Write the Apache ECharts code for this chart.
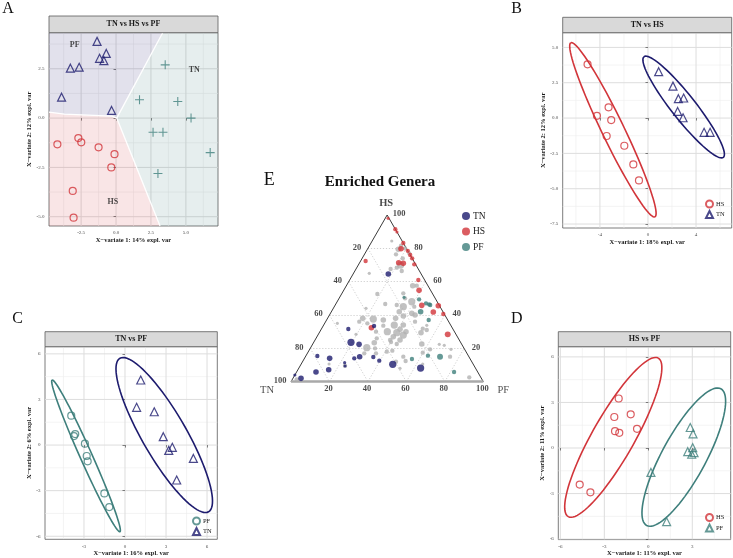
<!DOCTYPE html>
<html>
<head>
<meta charset="utf-8">
<script src="https://cdn.jsdelivr.net/npm/echarts@6/dist/echarts.min.js"></script>
<style>
  html, body { margin: 0; padding: 0; background: #fff; }
  #chart { width: 733px; height: 558px; }
</style>
</head>
<body>
<div id="chart"></div>
<script>
// ---- panel A: TN vs HS vs PF (x1, x2 scores) ----
const aTN = [[3.52, 2.7], [1.68, 0.93], [4.42, 0.84], [5.37, 0], [2.65, -0.72], [3.36, -0.72], [6.74, -1.75], [3.0, -2.81]];
const aHS = [[-4.2, -1.33], [-2.7, -1.01], [-2.49, -1.23], [-1.25, -1.48], [-0.11, -1.83], [-0.34, -2.5], [-3.1, -3.69], [-3.04, -5.05]];
const aPF = [[-1.36, 3.89], [-0.7, 3.28], [-1.18, 3.03], [-0.87, 2.91], [-3.27, 2.53], [-2.64, 2.58], [-3.9, 1.06], [-0.32, 0.39]];
// prediction areas (data space)
const aAreaPF = [[-4.8, 4.33], [3.34, 4.33], [0.05, 0], [-0.3, 0.1], [-3.7, 0.2], [-4.8, 0.3]];
const aAreaTN = [[3.34, 4.33], [7.3, 4.33], [7.3, -5.47], [3.15, -5.47], [0.05, 0]];
const aAreaHS = [[-4.8, 0.3], [-3.7, 0.2], [-0.3, 0.1], [0.05, 0], [3.15, -5.47], [-4.8, -5.47]];
const aBorders = [
  [[-4.8, 0.3], [-3.7, 0.2], [-0.3, 0.1], [0.05, 0]],
  [[0.05, 0], [3.34, 4.33]],
  [[0.05, 0], [3.15, -5.47]]
];
const aAreaLabels = [[-2.96, 3.72, 'PF'], [5.6, 2.44, 'TN'], [-0.23, -4.24, 'HS']];
const aXTicks = [-2.5, 0, 2.5, 5];
const aYTicks = [-5, -2.5, 0, 2.5];
const aXMinor = [-3.75, -1.25, 1.25, 3.75, 6.25];
const aYMinor = [-3.75, -1.25, 1.25, 3.75];

// ---- panel B: TN vs HS ----
const bHS = [[-5.03, 3.8], [-4.25, 0.16], [-3.28, 0.76], [-3.06, -0.14], [-3.44, -1.27], [-1.97, -1.96], [-1.22, -3.28], [-0.75, -4.41]];
const bTN = [[0.89, 3.28], [2.08, 2.26], [2.53, 1.37], [2.97, 1.42], [2.47, 0.47], [2.92, 0.02], [4.67, -1.01], [5.17, -1.01]];
// ellipse: centre x, centre y, semi-axis 1 (dx, dy), semi-axis 2 (dx, dy)
const bEllHS = [-2.92, -0.83, -3.5, 6.16, 0.83, 0.34];
const bEllTN = [2.97, 0.78, -3.3, 3.56, 0.79, 0.53];
const bXTicks = [-4, 0, 4];
const bYTicks = [-7.5, -5, -2.5, 0, 2.5, 5];
const bXMinor = [-6, -2, 2, 6];
const bYMinor = [-6.25, -3.75, -1.25, 1.25, 3.75];

// ---- panel C: TN vs PF ----
const cPF = [[-3.93, 1.93], [-3.64, 0.72], [-3.73, 0.59], [-2.93, 0.09], [-2.8, -0.72], [-2.73, -1.07], [-1.51, -3.18], [-1.15, -4.08]];
const cTN = [[1.15, 4.28], [0.85, 2.48], [2.14, 2.19], [2.8, 0.55], [3.46, -0.15], [3.2, -0.35], [5.0, -0.88], [3.78, -2.3]];
const cEllPF = [-2.85, -0.71, -2.48, 4.99, 0.4, 0.16];
const cEllTN = [2.87, 0.66, -3.24, 5.05, 1.4, 0.72];
const cXTicks = [-3, 0, 3, 6];
const cYTicks = [-6, -3, 0, 3, 6];
const cXMinor = [-4.5, -1.5, 1.5, 4.5];
const cYMinor = [-4.5, -1.5, 1.5, 4.5];

// ---- panel D: HS vs PF ----
const dHS = [[-2.02, 3.26], [-2.32, 2.04], [-1.2, 2.22], [-2.27, 1.11], [-1.98, 1.0], [-0.77, 1.26], [-4.68, -2.41], [-3.95, -2.92]];
const dPF = [[2.86, 1.35], [3.05, 0.93], [3.03, 0.02], [2.69, -0.24], [3.12, -0.31], [2.96, -0.41], [0.18, -1.61], [1.25, -4.85]];
const dEllHS = [-2.39, 0.7, 3.07, 5.22, 1.25, -0.67];
const dEllPF = [2.42, -0.6, 2.53, 4.5, 1.32, -0.68];
const dXTicks = [-6, -3, 0, 3];
const dYTicks = [-6, -3, 0, 3, 6];
const dXMinor = [-4.5, -1.5, 1.5, 4.5];
const dYMinor = [-4.5, -1.5, 1.5, 4.5];

// ---- panel E: enriched genera, [TN, HS, PF, abundance] ----
const eTN = [
  [17.1, 64.6, 18.3, 0.5], [40.1, 33.4, 26.5, 0.2], [54.4, 31.6, 14, 0.2], [57, 23.6, 19.4, 1.1],
  [53.4, 22.4, 24.2, 0.5], [78.6, 15.4, 6, 0.2], [72.9, 14, 13.1, 0.5], [66.4, 11.4, 22.2, 0.04],
  [67.2, 9.4, 23.4, 0.04], [60.1, 14, 25.9, 0.2], [56.8, 15, 28.2, 0.5], [49.8, 14.8, 35.4, 0.2],
  [47.8, 12.6, 39.6, 0.2], [41.9, 10.4, 47.7, 1.1], [84.1, 5.8, 10.1, 0.5], [76.8, 7.2, 16, 0.5],
  [28.5, 8.2, 63.3, 1.1], [93.8, 2, 4.2, 0.5], [96, 4, 0, 0.04]
];
const eHS = [
  [0.5, 98, 1.5, 0.04], [0, 91.5, 8.5, 0.2], [0, 89.8, 10.2, 0.04], [0, 83.2, 16.8, 0.2],
  [2.9, 79.8, 17.3, 0.5], [0, 78.5, 21.5, 0.2], [0, 76, 24, 0.2], [0, 74, 26, 0.2],
  [8.3, 71.4, 20.3, 0.5], [6.1, 71, 22.9, 0.5], [0.7, 70.4, 28.9, 0.2], [25, 72.4, 2.6, 0.2],
  [3.3, 61, 35.7, 0.2], [6, 54.8, 39.2, 0.5], [9.1, 45.8, 45.1, 0.5], [0.6, 45.6, 53.8, 0.5],
  [5.1, 41.8, 53.1, 0.5], [0.5, 40.6, 58.9, 0.2], [42, 32.4, 25.6, 0.5], [4.3, 28.4, 67.3, 0.6]
];
const ePF = [
  [8.7, 49.4, 41.9, 0.2], [15.9, 50.6, 33.5, 0.04], [6.3, 47, 46.7, 0.2], [5, 46.4, 48.6, 0.2],
  [4.6, 46, 49.4, 0.2], [11.6, 42, 46.4, 0.5], [9.9, 37, 53.1, 0.2], [30.3, 13.6, 56.1, 0.2],
  [21, 15.6, 63.4, 0.2], [15, 15, 70, 0.6], [12.3, 5.8, 81.9, 0.2]
];
const eNS = [
  [5.4, 84.4, 10.2, 0.04], [2, 81.6, 16.4, 0.2], [4.5, 79.4, 16.1, 0.5], [7.2, 76.4, 16.4, 0.2],
  [4.9, 74, 21.1, 0.2], [8, 70, 22, 1.1], [10.8, 68.4, 20.8, 0.2], [14.4, 67.6, 18, 0.2],
  [9.2, 66.4, 24.4, 0.2], [26.8, 65, 8.2, 0.04], [0.7, 80, 19.3, 0.2], [0, 77, 23, 0.2],
  [7.9, 57.6, 34.5, 0.5], [5.8, 57.6, 36.6, 0.2], [15.1, 53, 31.9, 0.2], [13.2, 48, 38.8, 1.1],
  [15.7, 50, 34.3, 0.2], [22, 46, 32, 0.2], [28.8, 52.6, 18.6, 0.2], [27.7, 46.6, 25.7, 0.2],
  [19.1, 45, 35.9, 1.1], [39, 44, 17, 0.04], [16.7, 41, 42.3, 0.5], [15.5, 40, 44.5, 0.5],
  [22.7, 42, 35.3, 0.5], [21.9, 39.4, 38.7, 0.5], [26.6, 38, 35.4, 0.5], [38.4, 37.6, 24, 1.1],
  [43.7, 38, 18.3, 0.5], [46.5, 36, 17.5, 0.2], [42.8, 35, 22.2, 0.2], [58.4, 35, 6.6, 0.04],
  [35.2, 33.6, 31.2, 0.2], [40.8, 30, 29.2, 0.2], [29.3, 34, 36.7, 1.1], [24.6, 34, 41.4, 0.5],
  [27.6, 31.4, 41, 0.5], [34.9, 30, 35.1, 1.1], [30.3, 29.4, 40.3, 1.1], [33.3, 27, 39.7, 0.5],
  [27.6, 28, 44.4, 1.1], [25.2, 30, 44.8, 0.5], [30.8, 25, 44.2, 0.5], [36, 25, 39, 0.2],
  [33.7, 22.6, 43.7, 0.2], [36.1, 23.8, 40.1, 0.2], [42.4, 26, 31.6, 0.2], [52, 28.4, 19.6, 0.04],
  [45, 23.4, 31.6, 0.5], [50.4, 20.4, 29.2, 1.1], [46.3, 20, 33.7, 0.2], [47.3, 17, 35.7, 0.2],
  [53.4, 17, 29.6, 0.2], [41.2, 18, 40.8, 0.2], [38, 18.6, 43.4, 0.2], [17.7, 29.4, 52.9, 0.5],
  [15.6, 31.8, 52.6, 0.2], [13.9, 31, 55.1, 0.2], [20.7, 22.6, 56.7, 0.5], [22.8, 17.4, 59.8, 0.2],
  [18, 19.4, 62.6, 0.2], [11.7, 22.4, 65.9, 0.04], [9.4, 21.8, 68.8, 0.04], [7.1, 19.4, 73.5, 0.04],
  [9.8, 15, 75.2, 0.2], [34.1, 15, 50.9, 0.2], [34.2, 12.4, 53.4, 0.2], [39.3, 8, 52.7, 0.04],
  [39.4, 12, 48.6, 0.2], [67.1, 9.6, 23.3, 0.2], [74.9, 10.6, 14.5, 0.04], [26.2, 10.6, 63.2, 0.04],
  [6, 2.6, 91.4, 0.2], [96.3, 1.4, 2.3, 0.2], [17.5, 36, 46.5, 0.2], [12.5, 33.8, 53.7, 0.04],
  [33.5, 37, 29.5, 0.5], [13.4, 45, 41.6, 0.2]
];
const eGrid = [20, 40, 60, 80];
const eTicks = [20, 40, 60, 80, 100];

const NAVY = '#1d1b6e';
const RED = '#d2353a';
const TEAL = '#3e7f7c';
const GREY = '#b1b1b1';
const SERIF = '"Liberation Serif", "DejaVu Serif", serif';

const SQ3 = Math.sqrt(3) / 2;
function tern(tn, hs, pf) {
  const s = tn + hs + pf;
  return [(pf + hs / 2) / s * 100, hs * SQ3 / s * 100];
}

const chart = echarts.init(document.getElementById('chart'));

const grids = [
  { left: 49, top: 32.7, width: 169, height: 193.3 },
  { left: 562.7, top: 32.7, width: 169, height: 195.3 },
  { left: 45, top: 346.7, width: 172.3, height: 192.6 },
  { left: 558.3, top: 346.7, width: 172.4, height: 193.6 },
  { left: 291, top: 215, width: 192.3, height: 166.7 }
].map((g, i) => Object.assign(g, {
  show: i < 4, backgroundColor: '#fff', borderColor: '#5a5a5a', borderWidth: 0.8
}));

// panel background grid lines, major + minor, drawn through the axis scales
function gridLines(gi, xs, ys, color, width) {
  return {
    type: 'custom', xAxisIndex: gi, yAxisIndex: gi, data: [[0, 0]], z: 0, silent: true, clip: true,
    renderItem: (params, api) => {
      const x0 = params.coordSys.x, y0 = params.coordSys.y;
      const w = params.coordSys.width, h = params.coordSys.height;
      const kids = [];
      xs.forEach(v => {
        const px = api.coord([v, 0])[0];
        kids.push({ type: 'line', shape: { x1: px, y1: y0, x2: px, y2: y0 + h }, style: { stroke: color, lineWidth: width } });
      });
      ys.forEach(v => {
        const py = api.coord([0, v])[1];
        kids.push({ type: 'line', shape: { x1: x0, y1: py, x2: x0 + w, y2: py }, style: { stroke: color, lineWidth: width } });
      });
      return { type: 'group', children: kids };
    }
  };
}

function mainAxis(gi, min, max, ticks, name, gap, dec) {
  return {
    gridIndex: gi, type: 'value', min: min, max: max,
    name: name, nameLocation: 'middle', nameGap: gap,
    nameTextStyle: { fontFamily: SERIF, fontWeight: 'bold', fontSize: 6.5, color: '#1a1a1a' },
    axisLine: { show: false },
    axisTick: { show: true, length: 2.5, lineStyle: { color: '#333', width: 0.6 }, customValues: ticks },
    axisLabel: {
      customValues: ticks, fontSize: 5, fontFamily: SERIF, color: '#4d4d4d', margin: 4.5,
      formatter: v => Number(v).toFixed(dec)
    },
    splitLine: { show: false }
  };
}

const xAxis = [
  mainAxis(0, -4.8, 7.3, aXTicks, 'X\u2212variate 1: 14% expl. var', 10.5, 1),
  mainAxis(1, -7.1, 6.97, bXTicks, 'X\u2212variate 1: 18% expl. var', 8, 0),
  mainAxis(2, -5.85, 6.75, cXTicks, 'X\u2212variate 1: 16% expl. var', 10, 0),
  mainAxis(3, -6.14, 5.62, dXTicks, 'X\u2212variate 1: 11% expl. var', 9.7, 0),
  { gridIndex: 4, type: 'value', min: 0, max: 100, show: false }
];
const yAxis = [
  mainAxis(0, -5.47, 4.33, aYTicks, 'X\u2212variate 2: 12% expl. var', 10, 1),
  mainAxis(1, -7.78, 6.04, bYTicks, 'X\u2212variate 2: 12% expl. var', 14.5, 1),
  mainAxis(2, -6.2, 6.47, cYTicks, 'X\u2212variate 2: 6% expl. var', 11, 0),
  mainAxis(3, -6.03, 6.67, dYTicks, 'X\u2212variate 2: 11% expl. var', 11.7, 0),
  { gridIndex: 4, type: 'value', min: 0, max: 100 * SQ3, show: false }
];

const CROSS = 'path://M0,4.4H10V5.6H0ZM4.4,0H5.6V10H4.4Z';
function pts(name, gi, data, shape, color) {
  return {
    type: 'scatter', name: name, xAxisIndex: gi, yAxisIndex: gi, data: data, z: 4, silent: true,
    symbol: shape === 'cross' ? CROSS : shape,
    symbolSize: shape === 'triangle' ? 8 : shape === 'cross' ? 9 : 7,
    itemStyle: shape === 'cross'
      ? { color: color }
      : { color: 'rgba(0,0,0,0)', borderColor: color, borderWidth: 1.2 }
  };
}
function ellipse(gi, e, color) {
  return {
    type: 'custom', xAxisIndex: gi, yAxisIndex: gi, data: [[e[0], e[1]]], z: 3, silent: true,
    renderItem: (params, api) => {
      const p = [];
      for (let k = 0; k <= 90; k++) {
        const t = k / 90 * 2 * Math.PI;
        p.push(api.coord([e[0] + e[2] * Math.cos(t) + e[4] * Math.sin(t),
                          e[1] + e[3] * Math.cos(t) + e[5] * Math.sin(t)]));
      }
      return { type: 'polyline', shape: { points: p }, style: { fill: 'none', stroke: color, lineWidth: 1.6 } };
    }
  };
}
function area(poly, fill) {
  return {
    type: 'custom', xAxisIndex: 0, yAxisIndex: 0, data: [poly[0]], z: 1, silent: true,
    renderItem: (params, api) => ({
      type: 'polygon', shape: { points: poly.map(v => api.coord(v)) }, style: { fill: fill }
    })
  };
}
function ternPts(name, data, color) {
  return {
    type: 'scatter', name: name, xAxisIndex: 4, yAxisIndex: 4, silent: true, z: 5,
    data: data.map(d => tern(d[0], d[1], d[2]).concat(d[3])),
    symbol: 'circle', symbolSize: v => 2.2 + 4.8 * Math.sqrt(v[2]),
    itemStyle: { color: color }
  };
}
function ternLabels(data, offset, bold, size) {
  return {
    type: 'scatter', xAxisIndex: 4, yAxisIndex: 4, silent: true, symbolSize: 0, z: 6,
    data: data,
    label: {
      show: true, position: 'inside', offset: offset, formatter: p => p.value[2],
      fontFamily: SERIF, fontWeight: bold ? 'bold' : 'normal', fontSize: size, color: '#1a1a1a'
    }
  };
}
function ternSeg(a, b) { return { coords: [tern(a[0], a[1], a[2]), tern(b[0], b[1], b[2])] }; }

const gridSegs = [];
eGrid.forEach(k => {
  gridSegs.push(ternSeg([100 - k, k, 0], [0, k, 100 - k]));
  gridSegs.push(ternSeg([100 - k, 0, k], [0, 100 - k, k]));
  gridSegs.push(ternSeg([k, 100 - k, 0], [k, 0, 100 - k]));
});

const series = [
  gridLines(0, aXMinor, aYMinor, '#ececec', 0.6), gridLines(0, aXTicks, aYTicks, '#dddddd', 1),
  gridLines(1, bXMinor, bYMinor, '#ececec', 0.6), gridLines(1, bXTicks, bYTicks, '#dddddd', 1),
  gridLines(2, cXMinor, cYMinor, '#ececec', 0.6), gridLines(2, cXTicks, cYTicks, '#dddddd', 1),
  gridLines(3, dXMinor, dYMinor, '#ececec', 0.6), gridLines(3, dXTicks, dYTicks, '#dddddd', 1),
  area(aAreaPF, 'rgba(30,27,110,0.13)'),
  area(aAreaTN, 'rgba(62,127,124,0.13)'),
  area(aAreaHS, 'rgba(210,53,58,0.13)'),
  {
    type: 'custom', xAxisIndex: 0, yAxisIndex: 0, data: [[0, 0]], z: 2, silent: true,
    renderItem: (params, api) => ({
      type: 'group',
      children: aBorders.map(b => ({
        type: 'polyline', shape: { points: b.map(v => api.coord(v)) },
        style: { fill: 'none', stroke: '#fff', lineWidth: 1.3 }
      }))
    })
  },
  {
    type: 'scatter', xAxisIndex: 0, yAxisIndex: 0, data: aAreaLabels, symbolSize: 0, silent: true, z: 5,
    label: { show: true, position: 'inside', formatter: p => p.value[2], fontFamily: SERIF, fontWeight: 'bold', fontSize: 8, color: '#1a1a1a' }
  },
  pts('A-TN', 0, aTN, 'cross', TEAL),
  pts('A-HS', 0, aHS, 'circle', RED),
  pts('A-PF', 0, aPF, 'triangle', NAVY),

  ellipse(1, bEllHS, RED), ellipse(1, bEllTN, NAVY),
  pts('B-HS', 1, bHS, 'circle', RED), pts('B-TN', 1, bTN, 'triangle', NAVY),

  ellipse(2, cEllPF, TEAL), ellipse(2, cEllTN, NAVY),
  pts('C-PF', 2, cPF, 'circle', TEAL), pts('C-TN', 2, cTN, 'triangle', NAVY),

  ellipse(3, dEllHS, RED), ellipse(3, dEllPF, TEAL),
  pts('D-HS', 3, dHS, 'circle', RED), pts('D-PF', 3, dPF, 'triangle', TEAL),

  // ternary frame
  {
    type: 'lines', coordinateSystem: 'cartesian2d', xAxisIndex: 4, yAxisIndex: 4, silent: true, z: 1,
    data: gridSegs, lineStyle: { color: '#c4c4c4', width: 0.8, type: [1.2, 1.8], opacity: 1 }
  },
  {
    type: 'lines', coordinateSystem: 'cartesian2d', xAxisIndex: 4, yAxisIndex: 4, silent: true, z: 2,
    data: [ternSeg([100, 0, 0], [0, 100, 0]), ternSeg([0, 100, 0], [0, 0, 100])],
    lineStyle: { color: '#3a3a3a', width: 1, opacity: 1 }
  },
  {
    type: 'lines', coordinateSystem: 'cartesian2d', xAxisIndex: 4, yAxisIndex: 4, silent: true, z: 2,
    data: [ternSeg([100, 0, 0], [0, 0, 100])],
    lineStyle: { color: '#a9a9a9', width: 2.6, opacity: 1 }
  },
  ternPts('E-NS', eNS, GREY),
  ternPts('E-PF', ePF, TEAL),
  ternPts('E-HS', eHS, RED),
  ternPts('E-TN', eTN, NAVY),
  ternLabels(eTicks.map(v => tern(v, 100 - v, 0).concat(String(v))), [-11, -1], true, 8.5),
  ternLabels(eTicks.map(v => tern(0, v, 100 - v).concat(String(v))), [12, -1], true, 8.5),
  ternLabels(eTicks.map(v => tern(100 - v, 0, v).concat(String(v))), [-1, 7], true, 8.5),
  ternLabels([tern(0, 100, 0).concat('HS')], [-1, -12], true, 10.5),
  ternLabels([tern(100, 0, 0).concat('TN')], [-24, 9], false, 10.5),
  ternLabels([tern(0, 0, 100).concat('PF')], [20, 9], false, 10.5)
];

function legendAt(names, left, top, gap, size, font) {
  return {
    data: names, left: left, top: top, orient: 'vertical', itemWidth: size, itemHeight: size,
    itemGap: gap, padding: 0, selectedMode: false,
    formatter: n => n.slice(2),
    textStyle: { fontFamily: SERIF, fontSize: font, color: '#1a1a1a', padding: [0, 0, 0, -2] }
  };
}

function strip(x, y, w, h, text) {
  return [
    { type: 'rect', shape: { x: x, y: y, width: w, height: h }, style: { fill: '#d9d9d9', stroke: '#5a5a5a', lineWidth: 0.8 }, z: 10 },
    { type: 'text', x: x + w / 2, y: y + h / 2, z: 11,
      style: { text: text, textAlign: 'center', textVerticalAlign: 'middle', align: 'center', verticalAlign: 'middle',
               font: 'bold 8px "Liberation Serif"', fill: '#1a1a1a' } }
  ];
}
function letter(x, y, t, size) {
  return { type: 'text', x: x, y: y, z: 11,
    style: { text: t, textAlign: 'center', textVerticalAlign: 'middle', align: 'center', verticalAlign: 'middle',
             font: size + 'px "Liberation Serif"', fill: '#111' } };
}

chart.setOption({
  animation: false,
  grid: grids,
  xAxis: xAxis,
  yAxis: yAxis,
  legend: [
    legendAt(['B-HS', 'B-TN'], 705, 199.5, 1.5, 7, 6.5),
    legendAt(['C-PF', 'C-TN'], 192, 516.5, 1.5, 7, 6.5),
    legendAt(['D-HS', 'D-PF'], 705, 513, 1.5, 7, 6.5),
    legendAt(['E-TN', 'E-HS', 'E-PF'], 462, 211, 5.5, 8, 9.5)
  ],
  graphic: [].concat(
    strip(49, 16, 169, 16.7, 'TN vs HS vs PF'),
    strip(562.7, 17.3, 169, 15.4, 'TN vs HS'),
    strip(45, 331.7, 172.3, 15, 'TN vs PF'),
    strip(558.3, 331.7, 172.4, 15, 'HS vs PF'),
    [
      letter(8, 9, 'A', 16), letter(516.7, 9, 'B', 16), letter(17.5, 318.5, 'C', 16),
      letter(516.7, 319, 'D', 16), letter(269.3, 180, 'E', 18),
      { type: 'text', x: 380, y: 181.7, z: 11,
        style: { text: 'Enriched Genera', textAlign: 'center', textVerticalAlign: 'middle', align: 'center', verticalAlign: 'middle',
                 font: 'bold 15px "Liberation Serif"', fill: '#111' } }
    ]
  ),
  series: series
});
</script>
</body>
</html>
